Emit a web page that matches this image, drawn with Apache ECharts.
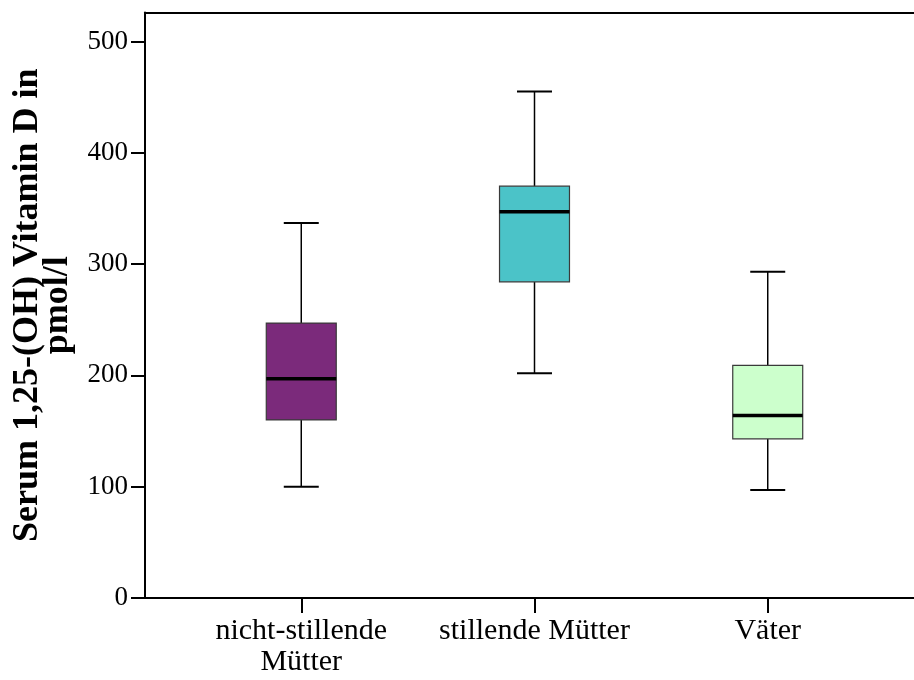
<!DOCTYPE html>
<html>
<head>
<meta charset="utf-8">
<script src="https://cdn.jsdelivr.net/npm/echarts@6/dist/echarts.min.js"></script>
<style>
  html, body { margin: 0; padding: 0; background: #fff; }
  #chart { width: 914px; height: 680px; }
</style>
</head>
<body>
<div id="chart"></div>
<script>
// Groups and their box statistics (pmol/l)
const categories = ['nicht-stillende\nMütter', 'stillende Mütter', 'Väter'];
const whiskerLow  = [100, 202, 97];
const quartile1   = [160, 284, 143];
const medians     = [197, 347, 164];
const quartile3   = [247, 370, 209];
const whiskerHigh = [337, 455, 293];
const boxColors   = ['#7b2a7b', '#4bc3c8', '#ccffcc'];
const yTicks      = [0, 100, 200, 300, 400, 500];

const serif = '"Liberation Serif", "Times New Roman", "DejaVu Serif", serif';

const seriesData = categories.map((c, i) => ({
  value: [i + 1, whiskerLow[i], quartile1[i], medians[i], quartile3[i], whiskerHigh[i]],
  itemStyle: { color: boxColors[i] }
}));

const BOX_HALF = 0.15;   // half box width in x-axis units
const CAP_HALF = 0.075;  // half whisker cap width

function renderBox(params, api) {
  const x = api.value(0);
  const lo = api.value(1), q1 = api.value(2), med = api.value(3), q3 = api.value(4), hi = api.value(5);
  const color = boxColors[params.dataIndex];
  const p = (xv, yv) => api.coord([xv, yv]);
  const lineStyle = { stroke: '#000', lineWidth: 1.5 };
  const tl = p(x - BOX_HALF, q3), br = p(x + BOX_HALF, q1);
  const children = [
    { type: 'line', shape: { x1: p(x, q3)[0], y1: p(x, q3)[1], x2: p(x, hi)[0], y2: p(x, hi)[1] }, style: lineStyle },
    { type: 'line', shape: { x1: p(x, q1)[0], y1: p(x, q1)[1], x2: p(x, lo)[0], y2: p(x, lo)[1] }, style: lineStyle },
    { type: 'line', shape: { x1: p(x - CAP_HALF, hi)[0], y1: p(x, hi)[1], x2: p(x + CAP_HALF, hi)[0], y2: p(x, hi)[1] }, style: { stroke: '#000', lineWidth: 2 } },
    { type: 'line', shape: { x1: p(x - CAP_HALF, lo)[0], y1: p(x, lo)[1], x2: p(x + CAP_HALF, lo)[0], y2: p(x, lo)[1] }, style: { stroke: '#000', lineWidth: 2 } },
    { type: 'rect', shape: { x: tl[0], y: tl[1], width: br[0] - tl[0], height: br[1] - tl[1] },
      style: { fill: color, stroke: '#3a3a3a', lineWidth: 1.2 } },
    { type: 'line', shape: { x1: tl[0], y1: p(x, med)[1], x2: br[0], y2: p(x, med)[1] }, style: { stroke: '#000', lineWidth: 3.5 } }
  ];
  return { type: 'group', children };
}

const chart = echarts.init(document.getElementById('chart'), null, { renderer: 'canvas' });
chart.setOption({
  animation: false,
  backgroundColor: '#fff',
  grid: { left: 145, right: -10, top: 12.5, bottom: 82, containLabel: false, outerBoundsMode: 'none' },
  xAxis: [
    {
      type: 'value', min: 0.33, max: 3.67, position: 'bottom',
      axisLine: { show: true, onZero: false, lineStyle: { color: '#000', width: 2 } },
      axisTick: { show: true, customValues: [1, 2, 3], length: 15, lineStyle: { color: '#000', width: 2 } },
      axisLabel: {
        customValues: [1, 2, 3], margin: 18, color: '#000',
        fontFamily: serif, fontSize: 30, lineHeight: 31,
        formatter: v => categories[Math.round(v) - 1] || ''
      },
      splitLine: { show: false }
    },
    {
      type: 'value', min: 0.33, max: 3.67, position: 'top',
      axisLine: { show: true, onZero: false, lineStyle: { color: '#000', width: 2 } },
      axisTick: { show: false }, axisLabel: { show: false }, splitLine: { show: false }
    }
  ],
  yAxis: {
    type: 'value', min: 0, max: 526,
    axisLine: { show: true, lineStyle: { color: '#000', width: 2 } },
    axisTick: { show: true, customValues: yTicks, length: 14, lineStyle: { color: '#000', width: 2 } },
    axisLabel: { customValues: yTicks, margin: 17, color: '#000', fontFamily: serif, fontSize: 27 },
    splitLine: { show: false },
    name: 'Serum 1,25-(OH) Vitamin D in\npmol/l',
    nameLocation: 'middle', nameRotate: 90, nameGap: 72,
    nameTextStyle: { fontFamily: serif, fontWeight: 'bold', fontSize: 36, lineHeight: 30, color: '#000', align: 'center' }
  },
  series: [{
    type: 'custom',
    renderItem: renderBox,
    encode: { x: 0, y: [1, 2, 3, 4, 5] },
    data: seriesData
  }]
});
</script>
</body>
</html>
